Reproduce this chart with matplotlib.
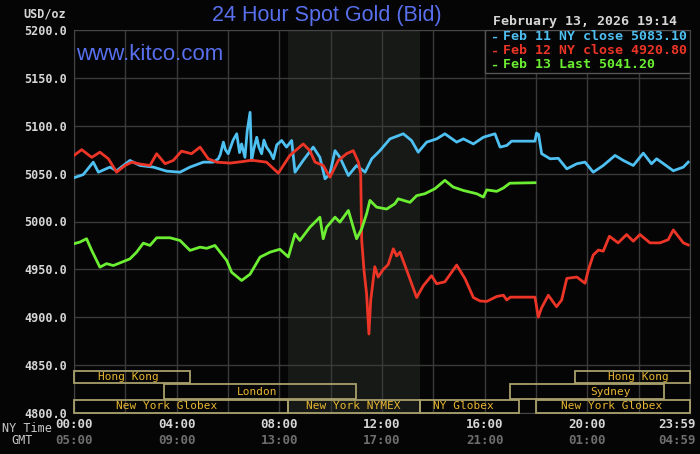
#import
import matplotlib
matplotlib.use("Agg")
import matplotlib.pyplot as plt
from matplotlib.patches import Rectangle
from matplotlib.transforms import blended_transform_factory

#data (hours since 00:00 NY time, price USD/oz)
feb11_hours = [0, 0.36, 0.75, 0.95, 1.4, 1.66, 2.18, 2.57, 3.09, 3.61, 4.13, 4.52,
               5.04, 5.43, 5.62, 5.7, 5.82, 5.9, 6.01, 6.2, 6.34, 6.45, 6.53, 6.66,
               6.75, 6.86, 6.92, 7.0, 7.12, 7.2, 7.31, 7.4, 7.5, 7.65, 7.77, 7.9,
               8.09, 8.28, 8.48, 8.61, 8.93, 9.32, 9.58, 9.78, 9.97, 10.17, 10.36,
               10.69, 11.01, 11.34, 11.6, 11.92, 12.31, 12.83, 13.15, 13.41, 13.74,
               14.13, 14.45, 14.91, 15.17, 15.56, 15.95, 16.4, 16.6, 16.86, 17.05,
               17.96, 18.02, 18.1, 18.22, 18.55, 18.87, 19.2, 19.59, 19.91, 20.23,
               20.62, 21.08, 21.4, 21.79, 22.18, 22.5, 22.7, 23.35, 23.74, 23.93]
feb11_price = [5045.7, 5049, 5062, 5051.5, 5056.8, 5053, 5063.8, 5058.5, 5056.8, 5052.6,
               5051.5, 5056.8, 5062, 5062, 5065.5, 5070, 5082.9, 5075, 5070.8, 5085,
               5091.6, 5072, 5081, 5067, 5095, 5114, 5063.8, 5075, 5088, 5078,
               5070.8, 5085, 5077.7, 5072, 5065.5, 5080, 5084.6, 5077.7, 5084.6,
               5051.5, 5063.8, 5077.7, 5067, 5044.6, 5049.8, 5074, 5067, 5048,
               5058.5, 5051.5, 5065.5, 5074, 5086.3, 5091.6, 5084.6, 5072.4, 5082.9,
               5086.3, 5091.6, 5082.9, 5086.3, 5081, 5088, 5091.6, 5077.7, 5079.4,
               5083.9, 5083.9, 5092.3, 5091, 5070.8, 5065.5, 5066, 5055, 5060.3,
               5062, 5051.5, 5058.5, 5069, 5063.8, 5058.5, 5071.4, 5060.3, 5065.5,
               5053, 5056.8, 5062]

feb12_hours = [0, 0.3, 0.69, 1.01, 1.34, 1.66, 1.99, 2.25, 2.57, 2.96, 3.22, 3.55,
               3.87, 4.19, 4.58, 4.91, 5.23, 5.56, 6.08, 6.6, 6.92, 7.5, 7.96, 8.41,
               8.93, 9.19, 9.39, 9.71, 9.97, 10.3, 10.62, 10.88, 11.08, 11.17, 11.21,
               11.3, 11.4, 11.49, 11.56, 11.72, 11.85, 12.05, 12.24, 12.44, 12.57,
               12.7, 13.02, 13.35, 13.61, 13.93, 14.13, 14.45, 14.91, 15.24, 15.56,
               15.82, 16.08, 16.47, 16.73, 16.86, 17.0, 17.96, 18.09, 18.22, 18.48,
               18.8, 19.0, 19.2, 19.59, 19.91, 20.04, 20.23, 20.43, 20.62, 20.86,
               21.2, 21.53, 21.79, 22.05, 22.44, 22.83, 23.15, 23.35, 23.74, 23.93]
feb12_price = [5069, 5075, 5067, 5072.4, 5065.5, 5051.5, 5058.5, 5062, 5060, 5058.5,
               5070.8, 5060.3, 5063.8, 5073.5, 5070.8, 5077.7, 5065.5, 5062, 5061,
               5062.7, 5064, 5062, 5050.5, 5069, 5081, 5074, 5062, 5058.5, 5046.3,
               5063.8, 5070.8, 5074, 5062, 5049.8, 4980, 4948.6, 4924.3, 4882.5,
               4917.6, 4952.8, 4942, 4950, 4955, 4971.5, 4964, 4968, 4945, 4920.6,
               4933, 4943.4, 4935, 4937, 4954.5, 4940, 4920.6, 4917, 4916.5, 4921.7,
               4923, 4918, 4921, 4921, 4900, 4910, 4923, 4911, 4918, 4940.6, 4942,
               4935.5, 4949.4, 4965, 4970.2, 4969, 4984.6, 4977.7, 4986.4, 4979.4,
               4986.4, 4977.7, 4977.7, 4981, 4991.2, 4977.7, 4975.5]

feb13_hours = [0, 0.23, 0.49, 0.69, 1.01, 1.27, 1.53, 1.86, 2.18, 2.44, 2.7, 2.96,
               3.22, 3.74, 4.13, 4.52, 4.91, 5.17, 5.49, 5.95, 6.14, 6.53, 6.86, 7.25,
               7.64, 8.02, 8.35, 8.61, 8.8, 9.19, 9.58, 9.71, 9.84, 10.17, 10.36,
               10.69, 11.01, 11.21, 11.4, 11.53, 11.79, 12.18, 12.5, 12.63, 13.09,
               13.35, 13.67, 14.06, 14.45, 14.77, 15.17, 15.43, 15.69, 15.95, 16.08,
               16.47, 16.73, 16.98, 17.96]
feb13_price = [4976.8, 4978.5, 4982, 4969.8, 4952.3, 4956, 4954, 4957.5, 4961, 4968,
               4977.4, 4975, 4983, 4983, 4980.2, 4969.8, 4973.2, 4972, 4975, 4959.3,
               4947, 4938.4, 4945, 4962.8, 4968, 4971, 4963, 4987, 4980.2, 4994,
               5004.5, 4982, 4994, 5004.5, 4999.3, 5011.5, 4982, 4992.4, 5008, 5022,
               5015, 5013, 5018.5, 5023.7, 5020, 5027, 5029, 5034.2, 5043, 5036,
               5032.4, 5030.7, 5029, 5025.5, 5033, 5031.5, 5035, 5040, 5040.5]

legend_labels = ["Feb 11 NY close 5083.10", "Feb 12 NY close 4920.80", "Feb 13 Last 5041.20"]
ny_labels = ["00:00", "04:00", "08:00", "12:00", "16:00", "20:00", "23:59"]
gmt_labels = ["05:00", "09:00", "13:00", "17:00", "21:00", "01:00", "04:59"]
label_hours = [0, 4, 8, 12, 16, 20, 23.5]

# (name, start hour, end hour, row, text x)
sessions = [("Hong Kong", 0, 4.5, 0, 2.12), ("Hong Kong", 19.5, 24, 0, 22.0),
            ("London", 3.5, 11.0, 1, 7.13), ("Sydney", 17.0, 23.0, 1, 20.92),
            ("New York Globex", 0, 8.333, 2, 3.62), ("New York NYMEX", 8.333, 13.5, 2, 10.87),
            ("NY Globex", 13.5, 17.33, 2, 15.16), ("New York Globex", 18.0, 24, 2, 20.96)]
row_bounds = [(4831.0, 4844.2), (4814.6, 4830.0), (4800.3, 4813.6)]

#colors
BG = "#050505"
GRID = "#3a3a3a"
BLUE = "#4ec0f2"
RED = "#ec3526"
GREEN = "#6cee32"
TITLE = "#5870ee"
BOX = "#a8a06c"
BOX_TEXT = "#e8b632"
MONO = "DejaVu Sans Mono"


def main():
    fig = plt.figure(figsize=(7, 4.54), dpi=100, facecolor=BG)
    ax = fig.add_axes([74 / 700, 1 - 413 / 454, 616 / 700, 383 / 454])
    ax.set_facecolor(BG)
    ax.set_xlim(0, 24)
    ax.set_ylim(4800, 5200)

    # NYMEX hours shading
    ax.axvspan(8.333, 13.5, color="#161916", zorder=0, lw=0)

    ax.set_xticks(range(0, 25, 2))
    ax.set_xticklabels([])
    ax.set_yticks(range(4800, 5201, 50))
    ax.set_yticklabels([f"{v:.1f}" for v in range(4800, 5201, 50)],
                       fontfamily=MONO, fontweight="bold", fontsize=8.5, color="#d6d6d6")
    ax.tick_params(length=0, pad=5)
    ax.grid(True, color=GRID, lw=1, zorder=1)
    for s in ax.spines.values():
        s.set_color("#444444")

    ax.plot(feb11_hours, feb11_price, color=BLUE, lw=2, zorder=3)
    ax.plot(feb12_hours, feb12_price, color=RED, lw=2, zorder=3)
    ax.plot(feb13_hours, feb13_price, color=GREEN, lw=2, zorder=4)

    # session boxes
    for name, x0, x1, row, tx in sessions:
        y0, y1 = row_bounds[row]
        ax.add_patch(Rectangle((x0, y0), x1 - x0, y1 - y0, fill=False,
                               edgecolor=BOX, lw=1.3, zorder=5, clip_on=False))
        ax.text(tx, (y0 + y1) / 2, name, ha="center", va="center", fontfamily=MONO,
                fontsize=8, color=BOX_TEXT, zorder=6)

    # legend box
    ax.add_patch(Rectangle((16.0, 5155.1), 8.0, 44.9, facecolor=BG, edgecolor="#555555",
                           lw=1, zorder=6))
    for i, (lab, col) in enumerate(zip(legend_labels, [BLUE, RED, GREEN])):
        y = 1 - (37 + i * 14) / 454
        fig.text(491 / 700, y, "-", color=col, fontfamily=MONO, fontweight="bold",
                 fontsize=9.5, va="center", ha="left")
        fig.text(503 / 700, y, lab, color=col, fontfamily=MONO, fontweight="bold",
                 fontsize=9.5, va="center", ha="left")

    # x labels
    tr = blended_transform_factory(ax.transData, fig.transFigure)
    for h, ny, gmt in zip(label_hours, ny_labels, gmt_labels):
        ax.text(h, 1 - 425 / 454, ny, transform=tr, ha="center", va="center",
                fontfamily=MONO, fontweight="bold", fontsize=9, color="#d6d6d6")
        ax.text(h, 1 - 441 / 454, gmt, transform=tr, ha="center", va="center",
                fontfamily=MONO, fontweight="bold", fontsize=9, color="#6e6e6e")
    fig.text(27 / 700, 1 - 428 / 454, "NY Time", ha="center", va="center",
             fontfamily=MONO, fontsize=8.5, color="#c8c8c8")
    fig.text(22 / 700, 1 - 441 / 454, "GMT", ha="center", va="center",
             fontfamily=MONO, fontsize=8.5, color="#c8c8c8")

    fig.text(45 / 700, 1 - 14 / 454, "USD/oz", ha="center", va="center",
             fontfamily=MONO, fontweight="bold", fontsize=8.5, color="#d6d6d6")
    fig.text(327 / 700, 1 - 16 / 454, "24 Hour Spot Gold (Bid)", ha="center", va="center",
             fontfamily="Liberation Sans", fontsize=15.5, color=TITLE)
    fig.text(76 / 700, 1 - 54 / 454, "www.kitco.com", ha="left", va="center",
             fontfamily="Liberation Sans", fontsize=16, color=TITLE)
    fig.text(677 / 700, 1 - 22 / 454, "February 13, 2026 19:14", ha="right", va="center",
             fontfamily=MONO, fontweight="bold", fontsize=9.5, color="#d6d6d6")

    fig.savefig("out.png", dpi=100, facecolor=BG)


#main
if __name__ == '__main__':
    main()
